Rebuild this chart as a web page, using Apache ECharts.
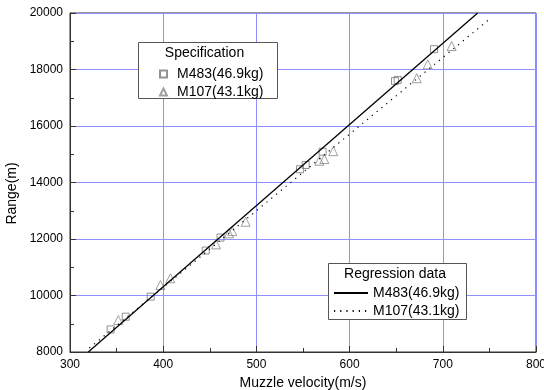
<!DOCTYPE html>
<html>
<head>
<meta charset="utf-8">
<script src="https://cdn.jsdelivr.net/npm/echarts@6/dist/echarts.min.js"></script>
<style>
  html, body { margin: 0; padding: 0; background: #fff; }
  #chart { width: 544px; height: 390px; }
</style>
</head>
<body>
<div id="chart"></div>
<script>
// measured points (muzzle velocity m/s, range m)
const m483Points = [
  [343.6, 8800], [359.8, 9250], [386.6, 9960], [445.6, 11590], [461.5, 12050],
  [546.8, 14470], [552.9, 14620], [571, 15090], [648.7, 17590], [651.6, 17630],
  [690.6, 18720]
]
const m107Points = [
  [351.8, 9130], [397, 10370], [407.7, 10610], [456.7, 11810], [470.6, 12200],
  [474.1, 12280], [488.5, 12610], [567.5, 14770], [572.9, 14830], [582.5, 15110],
  [672, 17690], [683.8, 18180], [709.5, 18830]
]
// regression line end points
const m483Fit = [[319.6, 8000], [737.4, 20000]]
const m107Fit = [[320.7, 8140], [750, 19780]]

const nameA = 'M483(46.9kg)'
const nameB = 'M107(43.1kg)'
const fitPrefix = 'fit:'

const font = 'Liberation Sans, Arial, sans-serif'
const gridColor = '#8f8fff'
const frameColor = '#333'

const chart = echarts.init(document.getElementById('chart'))

const axisCommon = {
  type: 'value',
  axisLine: { show: true, lineStyle: { color: frameColor, width: 1 } },
  axisTick: { show: true, inside: true, length: 6, lineStyle: { color: frameColor } },
  minorTick: { show: true, splitNumber: 2, length: 4, lineStyle: { color: frameColor } },
  axisLabel: { color: '#000', fontSize: 12, fontFamily: font, margin: 7, formatter: v => String(v) },
  splitLine: { show: true, lineStyle: { color: gridColor, width: 1 } },
  nameTextStyle: { color: '#000', fontSize: 14, fontFamily: font }
}

chart.setOption({
  animation: false,
  grid: {
    left: 70, right: 8, top: 13, bottom: 38,
    outerBoundsMode: 'none',
    show: true, borderColor: frameColor, borderWidth: 1, backgroundColor: '#fff'
  },
  xAxis: {
    ...axisCommon,
    min: 300, max: 800, interval: 100,
    name: 'Muzzle velocity(m/s)',
    nameLocation: 'middle',
    nameGap: 23
  },
  yAxis: {
    ...axisCommon,
    min: 8000, max: 20000, interval: 2000,
    name: 'Range(m)',
    nameLocation: 'middle',
    nameGap: 45,
    nameTextStyle: { ...axisCommon.nameTextStyle, padding: [0, 22, 0, 0] }
  },
  legend: [
    {
      data: [nameA, nameB],
      orient: 'vertical',
      left: 154, top: 62,
      itemWidth: 7, itemHeight: 7, itemGap: 4,
      textStyle: { color: '#000', fontSize: 14, fontFamily: font, padding: [0, 0, 0, 5] },
      selectedMode: false
    },
    {
      data: [fitPrefix + nameA, fitPrefix + nameB],
      orient: 'vertical',
      left: 328, top: 281,
      itemWidth: 34, itemHeight: 14, itemGap: 4,
      itemStyle: { color: 'rgba(0,0,0,0)', borderWidth: 0 },
      formatter: name => name.replace(fitPrefix, ''),
      textStyle: { color: '#000', fontSize: 14, fontFamily: font },
      selectedMode: false
    }
  ],
  graphic: [
    {
      type: 'rect', z: 3,
      shape: { x: 138.5, y: 42.5, width: 139, height: 56 },
      style: { fill: '#fff', stroke: '#555', lineWidth: 1 }
    },
    {
      type: 'text', z: 5, x: 204.5, y: 53,
      style: { text: 'Specification', fill: '#000', font: '14px ' + font, align: 'center', verticalAlign: 'middle' }
    },
    {
      type: 'rect', z: 3,
      shape: { x: 328.5, y: 263.5, width: 138, height: 56 },
      style: { fill: '#fff', stroke: '#555', lineWidth: 1 }
    },
    {
      type: 'text', z: 5, x: 395, y: 274,
      style: { text: 'Regression data', fill: '#000', font: '14px ' + font, align: 'center', verticalAlign: 'middle' }
    }
  ],
  series: [
    {
      name: fitPrefix + nameA,
      type: 'line',
      data: m483Fit,
      symbol: 'none',
      lineStyle: { color: '#000', width: 1.3, type: 'solid' },
      itemStyle: { color: '#000' }
    },
    {
      name: fitPrefix + nameB,
      type: 'line',
      data: m107Fit,
      symbol: 'none',
      lineStyle: { color: '#000', width: 1.2, type: [1.2, 5] },
      itemStyle: { color: '#000' }
    },
    {
      name: nameA,
      type: 'scatter',
      data: m483Points,
      symbol: 'rect',
      symbolSize: 7,
      itemStyle: { color: 'rgba(255,255,255,0)', borderColor: '#777', borderWidth: 1 }
    },
    {
      name: nameB,
      type: 'scatter',
      data: m107Points,
      symbol: 'triangle',
      symbolSize: 9,
      itemStyle: { color: 'rgba(255,255,255,0)', borderColor: '#888', borderWidth: 1 }
    }
  ]
})
</script>
</body>
</html>
